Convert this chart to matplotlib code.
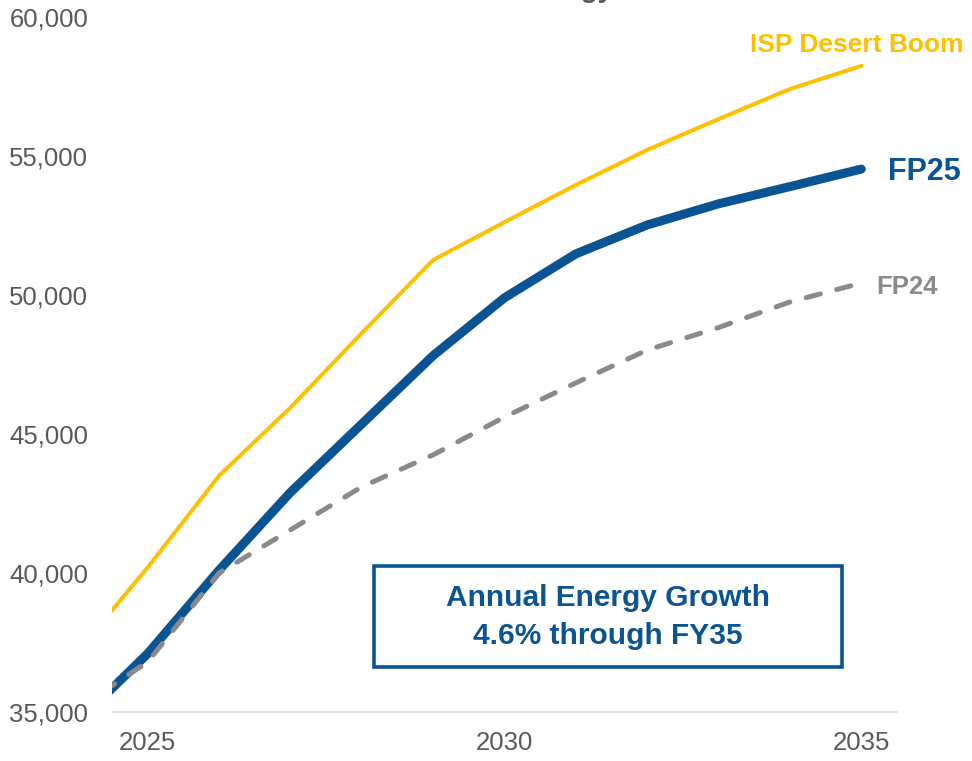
import matplotlib.pyplot as plt
from matplotlib.ticker import FuncFormatter

plt.rcParams['font.family'] = ['Liberation Sans', 'DejaVu Sans']

years = [2024, 2025, 2026, 2027, 2028, 2029, 2030, 2031, 2032, 2033, 2034, 2035]
isp_desert_boom = [37120, 40200, 43500, 45950, 48630, 51260, 52620, 53960, 55220, 56330, 57410, 58240]
fp25 = [34600, 37100, 40100, 42900, 45360, 47820, 49900, 51480, 52520, 53280, 53900, 54530]
fp24 = [35100, 36800, 40000, 41550, 43100, 44250, 45610, 46840, 48020, 48830, 49750, 50430]

yticks = [35000, 40000, 45000, 50000, 55000, 60000]
xticks = [2025, 2030, 2035]

blue = '#0A5494'
gold = '#FFC000'
grey = '#8A8A8A'
txt = '#595959'

fig = plt.figure(figsize=(9.72, 7.61), dpi=100)
ax = fig.add_axes([112/972, 1 - 712/761, (897-112)/972, (712-17)/761])

ax.plot(years, isp_desert_boom, color=gold, lw=2.9, solid_capstyle='round')
ax.plot(years, fp25, color=blue, lw=6.5, solid_capstyle='round')
# FP24 sits on top of FP25 where the two meet
ax.plot(years, fp24, color=grey, lw=3.6, dashes=(2.9, 3.4), dash_capstyle='round')

ax.set_xlim(2024.5, 2035.5)
ax.set_ylim(35000, 60000)
ax.set_yticks(yticks)
ax.set_xticks(xticks)
ax.yaxis.set_major_formatter(FuncFormatter(lambda v, p: '{:,.0f}'.format(v)))
ax.tick_params(axis='both', length=0, labelsize=18.5, labelcolor=txt)
ax.tick_params(axis='y', pad=17)
ax.tick_params(axis='x', pad=14)

for s in ['top', 'right', 'left']:
    ax.spines[s].set_visible(False)
ax.spines['bottom'].set_color('#D9D9D9')
ax.spines['bottom'].set_linewidth(1.2)

# series labels
ax.annotate('ISP Desert Boom', xy=(963/972, 1 - 45/761), xycoords='figure fraction',
            ha='right', va='center', fontsize=19, fontweight='bold', color=gold)
ax.annotate('FP25', xy=(888/972, 1 - 172/761), xycoords='figure fraction',
            ha='left', va='center', fontsize=22, fontweight='bold', color=blue)
ax.annotate('FP24', xy=(876/972, 1 - 287/761), xycoords='figure fraction',
            ha='left', va='center', fontsize=18.5, fontweight='bold', color=grey)

# growth callout
fig.patches.append(plt.Rectangle((374/972, 1 - 667/761), (842-374)/972, (667-566)/761,
                                 transform=fig.transFigure, fill=False,
                                 edgecolor=blue, lw=2.6))
fig.text(608/972, 1 - 617/761, 'Annual Energy Growth\n4.6% through FY35',
         ha='center', va='center', fontsize=21.5, fontweight='bold', color=blue,
         linespacing=1.45)

# title cut off at the top of the picture
fig.text(613/972, 1 + 3/761, 'Energy', ha='right', va='baseline',
         fontsize=20, fontweight='bold', color=txt)

fig.savefig('out.png', dpi=100)
